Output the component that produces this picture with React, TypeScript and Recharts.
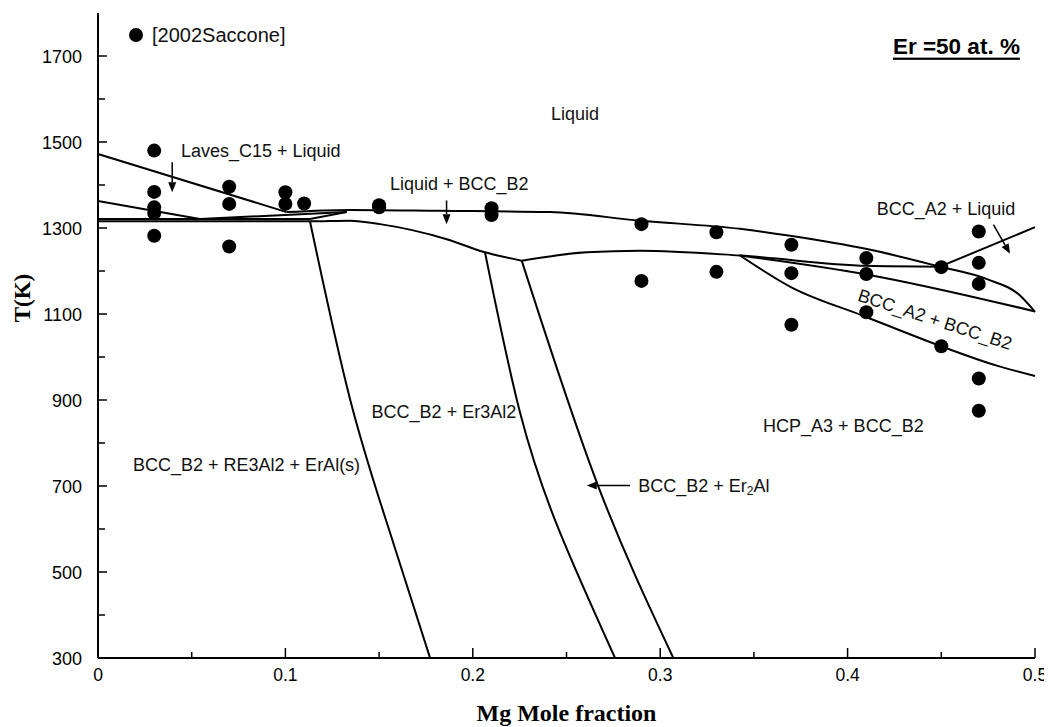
import {
  ComposedChart,
  Line,
  Scatter,
  XAxis,
  YAxis,
  ReferenceDot,
  ReferenceLine,
  Legend,
  Label,
} from "recharts";

const xTicks = [0, 0.05, 0.1, 0.15, 0.2, 0.25, 0.3, 0.35, 0.4, 0.45, 0.5];
const xTickLabels = [0, 0.1, 0.2, 0.3, 0.4, 0.5];
const yTicks = [300, 400, 500, 600, 700, 800, 900, 1000, 1100, 1200, 1300, 1400, 1500, 1600, 1700];
const yTickLabels = [300, 500, 700, 900, 1100, 1300, 1500, 1700];

// calculated phase boundaries, [Mg mole fraction, T(K)]
const lavesUpper = [[0, 1472], [0.1007, 1337]];
const lavesLower = [[0, 1363], [0.0544, 1321]];
const lavesSliver = [[0.0544, 1321], [0.1327, 1337]];
const eutecticUpper = [[0, 1321], [0.1131, 1321], [0.1327, 1337]];
const b2Left = [[0, 1315.6], [0.1131, 1315.6], [0.1345, 1317], [0.1505, 1309], [0.1861, 1274], [0.2065, 1243.5], [0.2261, 1224]];
const b2Right = [[0.2261, 1224], [0.2609, 1243.5], [0.2892, 1247], [0.3426, 1236], [0.4103, 1212], [0.4493, 1210]];
const liquidus = [[0.1007, 1337], [0.1345, 1342], [0.1825, 1340], [0.2412, 1337], [0.2892, 1317], [0.3426, 1298], [0.3693, 1282], [0.4103, 1251], [0.4493, 1210], [0.4744, 1181], [0.492, 1143], [0.5, 1105]];
const a2Straight = [[0.3426, 1236], [0.41, 1192], [0.5, 1106]];
const a2b2Lower = [[0.3426, 1236], [0.37, 1162], [0.4082, 1096], [0.4493, 1026], [0.4796, 980], [0.5, 956]];
const a2Liquid = [[0.4493, 1210], [0.5, 1302]];
const erAlBoundary = [[0.1131, 1315.6], [0.1345, 902], [0.1558, 592], [0.1772, 300]];
const er3Al2Boundary = [[0.2065, 1243.5], [0.2252, 871], [0.2465, 592], [0.2759, 300]];
const er2AlBoundary = [[0.2261, 1224], [0.2668, 701], [0.307, 300]];

const boundaries = [
  { id: "lavesUpper", pts: lavesUpper, type: "linear" },
  { id: "lavesLower", pts: lavesLower, type: "linear" },
  { id: "lavesSliver", pts: lavesSliver, type: "linear" },
  { id: "eutecticUpper", pts: eutecticUpper, type: "linear" },
  { id: "b2Left", pts: b2Left, type: "monotone" },
  { id: "b2Right", pts: b2Right, type: "monotone" },
  { id: "liquidus", pts: liquidus, type: "monotone" },
  { id: "a2Straight", pts: a2Straight, type: "monotone" },
  { id: "a2b2Lower", pts: a2b2Lower, type: "monotone" },
  { id: "a2Liquid", pts: a2Liquid, type: "linear" },
  { id: "erAl", pts: erAlBoundary, type: "natural" },
  { id: "er3Al2", pts: er3Al2Boundary, type: "natural" },
  { id: "er2Al", pts: er2AlBoundary, type: "natural" },
];

// [2002Saccone] measurements
const expX = [0.03, 0.03, 0.03, 0.03, 0.03, 0.07, 0.07, 0.07, 0.1, 0.1, 0.11, 0.15, 0.15, 0.21, 0.21, 0.29, 0.29, 0.33, 0.33, 0.37, 0.37, 0.37, 0.41, 0.41, 0.41, 0.45, 0.45, 0.47, 0.47, 0.47, 0.47, 0.47];
const expT = [1480, 1384, 1348, 1335, 1282, 1396, 1356, 1257, 1383, 1356, 1357, 1353, 1348, 1346, 1330, 1309, 1177, 1290, 1198, 1261, 1195, 1075, 1230, 1193, 1104, 1209, 1025, 1292, 1219, 1170, 950, 875];

// phase region labels
const regionLabels = [
  { x: 0.2417, t: 1565, text: "Liquid" },
  { x: 0.0443, t: 1480, text: "Laves_C15 + Liquid" },
  { x: 0.1558, t: 1402, text: "Liquid + BCC_B2" },
  { x: 0.4155, t: 1344, text: "BCC_A2 + Liquid" },
  { x: 0.3549, t: 840, text: "HCP_A3 + BCC_B2" },
  { x: 0.146, t: 871, text: "BCC_B2 + Er3Al2" },
  { x: 0.0187, t: 749, text: "BCC_B2 + RE3Al2 + ErAl(s)" },
];

const arrows = [
  { x1: 0.0396, t1: 1453, x2: 0.0396, t2: 1383 },
  { x1: 0.186, t1: 1364, x2: 0.186, t2: 1309 },
  { x1: 0.4778, t1: 1308, x2: 0.4867, t2: 1240 },
  { x1: 0.2839, t1: 701, x2: 0.2608, t2: 701 },
];

const toPts = (a: number[][]) => a.map(([x, t]) => ({ x, t }));
const expData = expX.map((x, i) => ({ x, t: expT[i] }));

const SANS = '"Liberation Sans", Arial, sans-serif';
const SERIF = '"Liberation Serif", "Times New Roman", serif';

const BottomTick = ({ x, y, payload }: any) => {
  const v = payload.value;
  const major = xTickLabels.includes(v);
  return (
    <g>
      <line x1={x} y1={y} x2={x} y2={y - (major ? 10 : 6)} stroke="#000" strokeWidth={1.5} />
      {major && (
        <text x={x} y={y + 17} textAnchor="middle" dominantBaseline="central" fontFamily={SANS} fontSize={17.5} fill="#000">
          {v}
        </text>
      )}
    </g>
  );
};

const TopTick = ({ x, y }: any) => (
  <line x1={x} y1={y} x2={x} y2={y + 6} stroke="#000" strokeWidth={1.5} />
);

const LeftTick = ({ x, y, payload }: any) => {
  const v = payload.value;
  const major = yTickLabels.includes(v);
  return (
    <g>
      <line x1={x} y1={y} x2={x + (major ? 9 : 7)} y2={y} stroke="#000" strokeWidth={1.5} />
      {major && (
        <text x={x - 16} y={y + 1} textAnchor="end" dominantBaseline="central" fontFamily={SANS} fontSize={18} fill="#000">
          {v}
        </text>
      )}
    </g>
  );
};

const RightTick = ({ x, y }: any) => (
  <line x1={x} y1={y} x2={x - 6} y2={y} stroke="#000" strokeWidth={1.5} />
);

const Arrow = ({ x1, y1, x2, y2 }: any) => {
  const a = Math.atan2(y2 - y1, x2 - x1);
  const len = 10;
  const w = 4;
  const bx = x2 - len * Math.cos(a);
  const by = y2 - len * Math.sin(a);
  const pts = `${x2},${y2} ${bx + w * Math.sin(a)},${by - w * Math.cos(a)} ${bx - w * Math.sin(a)},${by + w * Math.cos(a)}`;
  return (
    <g>
      <line x1={x1} y1={y1} x2={bx} y2={by} stroke="#000" strokeWidth={1.5} />
      <polygon points={pts} fill="#000" />
    </g>
  );
};

const ExpDot = ({ cx, cy }: any) => <circle cx={cx} cy={cy} r={7} fill="#000" />;

const YTitle = ({ viewBox }: any) => {
  const x = viewBox.x + 14;
  const y = 290;
  return (
    <text x={x} y={y} transform={`rotate(-90, ${x}, ${y})`} textAnchor="middle" dominantBaseline="central" fontFamily={SERIF} fontWeight="bold" fontSize={23} fill="#000">
      T(K)
    </text>
  );
};

const XTitle = ({ viewBox }: any) => (
  <text x={viewBox.x + viewBox.width / 2} y={viewBox.y + 55} textAnchor="middle" dominantBaseline="central" fontFamily={SERIF} fontWeight="bold" fontSize={24} fill="#000">
    Mg Mole fraction
  </text>
);

const LegendBox = () => (
  <div style={{ display: "flex", alignItems: "center", height: 24, fontFamily: SANS, fontSize: 20, color: "#111" }}>
    <svg width={14} height={14}>
      <circle cx={7} cy={7} r={7} fill="#000" />
    </svg>
    <span style={{ marginLeft: 9 }}>[2002Saccone]</span>
  </div>
);

export default function App() {
  return (
    <ComposedChart width={1040} height={719} margin={{ top: 5, right: 13, bottom: 0, left: 0 }}>
      <XAxis
        dataKey="x"
        type="number"
        domain={[0, 0.5]}
        ticks={xTicks}
        interval={0}
        tickSize={0}
        tickMargin={0}
        tick={BottomTick}
        height={69}
        axisLine={{ stroke: "#000", strokeWidth: 2 }}
      >
        <Label content={XTitle} />
      </XAxis>
      <XAxis
        xAxisId="top"
        orientation="top"
        type="number"
        domain={[0, 0.5]}
        ticks={xTicks}
        interval={0}
        tickSize={0}
        tickMargin={0}
        tick={TopTick}
        height={0}
        axisLine={{ stroke: "#000", strokeWidth: 2 }}
      />
      <YAxis
        dataKey="t"
        type="number"
        domain={[300, 1800]}
        ticks={yTicks}
        interval={0}
        tickSize={0}
        tickMargin={0}
        tick={LeftTick}
        width={90}
        axisLine={{ stroke: "#000", strokeWidth: 2 }}
      >
        <Label content={YTitle} />
      </YAxis>
      <YAxis
        yAxisId="right"
        orientation="right"
        type="number"
        domain={[300, 1800]}
        ticks={yTicks}
        interval={0}
        tickSize={0}
        tickMargin={0}
        tick={RightTick}
        width={0}
        axisLine={{ stroke: "#000", strokeWidth: 2 }}
      />
      <Legend
        layout="horizontal"
        verticalAlign="middle"
        align="center"
        wrapperStyle={{ top: 15, left: 121, width: "auto" }}
        content={LegendBox}
      />
      {boundaries.map((b) => (
        <Line
          key={b.id}
          data={toPts(b.pts)}
          dataKey="t"
          type={b.type as any}
          stroke="#000"
          strokeWidth={2}
          dot={false}
          activeDot={false}
          legendType="none"
          isAnimationActive={false}
        />
      ))}
      <Scatter name="[2002Saccone]" data={expData} dataKey="t" fill="#000" shape={ExpDot} isAnimationActive={false} />
      {arrows.map((a, i) => (
        <ReferenceLine
          key={`arrow-${i}`}
          segment={[{ x: a.x1, y: a.t1 }, { x: a.x2, y: a.t2 }]}
          ifOverflow="visible"
          shape={Arrow}
        />
      ))}
      {regionLabels.map((l) => (
        <ReferenceDot
          key={l.text}
          x={l.x}
          y={l.t}
          r={0}
          ifOverflow="visible"
          shape={(p: any) => (
            <text x={p.cx} y={p.cy} dominantBaseline="central" fontFamily={SANS} fontSize={18} fill="#111">
              {l.text}
            </text>
          )}
        />
      ))}
      <ReferenceDot
        x={0.2883}
        y={701}
        r={0}
        ifOverflow="visible"
        shape={(p: any) => (
          <text x={p.cx} y={p.cy} dominantBaseline="central" fontFamily={SANS} fontSize={18} fill="#111">
            BCC_B2 + Er
            <tspan fontSize={12} dy={5}>2</tspan>
            <tspan dy={-5}>Al</tspan>
          </text>
        )}
      />
      <ReferenceDot
        x={0.4466}
        y={1087}
        r={0}
        ifOverflow="visible"
        shape={(p: any) => (
          <text x={p.cx} y={p.cy} transform={`rotate(18, ${p.cx}, ${p.cy})`} textAnchor="middle" dominantBaseline="central" fontFamily={SANS} fontSize={18} fill="#111">
            BCC_A2 + BCC_B2
          </text>
        )}
      />
      <ReferenceDot
        x={0.4242}
        y={1723}
        r={0}
        ifOverflow="visible"
        shape={(p: any) => (
          <text x={p.cx} y={p.cy} dominantBaseline="central" fontFamily={SANS} fontWeight="bold" fontSize={22.5} textDecoration="underline" fill="#000">
            Er =50 at. %
          </text>
        )}
      />
    </ComposedChart>
  );
}
